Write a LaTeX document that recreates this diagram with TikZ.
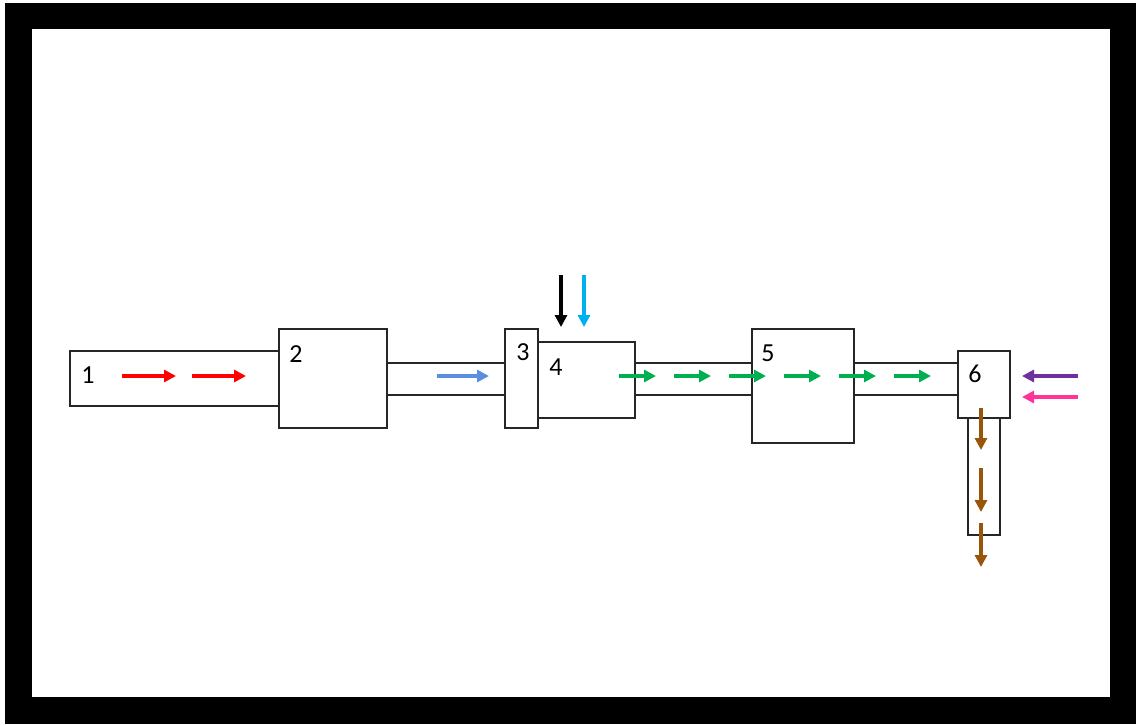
\documentclass[tikz,border=0pt]{standalone}
\usepackage{fontspec}
\setmainfont{Carlito}
\usetikzlibrary{arrows.meta,positioning}
\definecolor{flowred}{RGB}{255,0,0}
\definecolor{flowblue}{RGB}{91,142,222}
\definecolor{flowcyan}{RGB}{0,176,240}
\definecolor{flowgreen}{RGB}{0,176,80}
\definecolor{flowpurple}{RGB}{112,48,160}
\definecolor{flowpink}{RGB}{255,51,153}
\definecolor{flowbrown}{RGB}{153,85,10}

\begin{document}
\begin{tikzpicture}[x=1pt, y=-1pt,
box/.style={draw=black!85, fill=white, line width=1.5pt, inner sep=0pt, anchor=north west},
num/.style={font=\fontsize{26}{30}\selectfont, inner sep=0pt},
flow/.style={line width=3.5pt, -{Triangle[length=12pt,width=12pt]}},
]
\useasboundingbox (0,0) rectangle (1136,724);
% frame
\fill[black] (5,3) rectangle (1136,724);
\fill[white] (32,29) rectangle (1110,697);

% pipes
\node[box, minimum width=210pt, minimum height=55pt] (b1) at (69,350) {};
\node[box, minimum width=118pt, minimum height=32pt] (p23) at (386,362) {};
\node[box, minimum width=117pt, minimum height=32pt] (p45) at (634,362) {};
\node[box, minimum width=104pt, minimum height=32pt] (p56) at (853,362) {};
\node[box, minimum width=32pt, minimum height=117pt] (p6) at (967,417) {};

% units
\node[box, minimum width=108pt, minimum height=99pt] (b2) at (278,328) {};
\node[box, minimum width=33pt, minimum height=99pt] (b3) at (504,328) {};
\node[box, minimum width=97pt, minimum height=76pt] (b4) at (537,341) {};
\node[box, minimum width=102pt, minimum height=114pt] (b5) at (751,328) {};
\node[box, minimum width=52pt, minimum height=67pt] (b6) at (957,350) {};

\node[num] (n1) at (88,375) {1};
\node[num] (n2) at (296,354) {2};
\node[num] (n3) at (523,352) {3};
\node[num] (n4) at (556,367) {4};
\node[num] (n5) at (768,353) {5};
\node[num] (n6) at (975,374) {6};

% feed
\foreach \x in {122,192} {
  \coordinate (r\x a) at (\x,376);
  \coordinate (r\x b) at (\x+54,376);
  \draw[flow, flowred] (r\x a) -- (r\x b);
}
\coordinate (bla) at (437,376);
\coordinate (blb) at (489,376);
\draw[flow, flowblue] (bla) -- (blb);

% inlets on 4
\coordinate (ka) at (561,275);
\coordinate (kb) at (561,327);
\draw[flow, black] (ka) -- (kb);
\coordinate (ca) at (584,275);
\coordinate (cb) at (584,327);
\draw[flow, flowcyan] (ca) -- (cb);

% product line
\foreach \i in {0,...,5} {
  \coordinate (g\i a) at (619+55*\i,376);
  \coordinate (g\i b) at (656+55*\i,376);
  \draw[flow, flowgreen] (g\i a) -- (g\i b);
}

% inlets on 6
\coordinate (pua) at (1078,376);
\coordinate (pub) at (1022,376);
\draw[flow, flowpurple] (pua) -- (pub);
\coordinate (pia) at (1078,397);
\coordinate (pib) at (1022,397);
\draw[flow, flowpink] (pia) -- (pib);

% outlet
\foreach \ya/\yb [count=\k] in {408/450, 468/512, 523/567} {
  \coordinate (o\k a) at (981,\ya);
  \coordinate (o\k b) at (981,\yb);
  \draw[flow, flowbrown] (o\k a) -- (o\k b);
}
\end{tikzpicture}
\end{document}
